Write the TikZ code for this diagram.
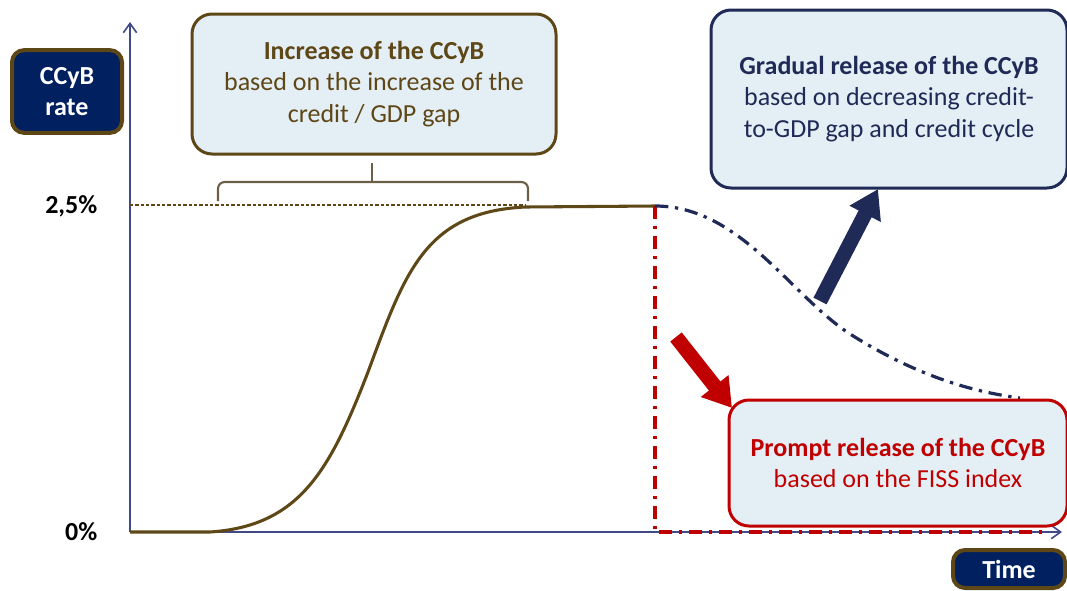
\documentclass[tikz,border=0pt]{standalone}
\usepackage{fontspec}
\setmainfont{Carlito}
\usetikzlibrary{arrows.meta,positioning}
\definecolor{navyfill}{HTML}{002060}
\definecolor{boxbrown}{HTML}{5E4716}
\definecolor{curvebrown}{HTML}{5E4818}
\definecolor{lightfill}{HTML}{E4EEF5}
\definecolor{axisblue}{HTML}{3F4A86}
\definecolor{deepnavy}{HTML}{1F2A56}
\definecolor{promptred}{HTML}{C00000}
\definecolor{bracegray}{HTML}{6B5F48}
\begin{document}
\begin{tikzpicture}[x=0.75pt,y=-0.75pt,
        every node/.style={font=\fontsize{19.5}{23.5}\selectfont},
        info box/.style={rounded corners=15pt,fill=lightfill,line width=2.25pt,align=center,inner sep=0pt},
        label box/.style={rounded corners=9pt,fill=navyfill,draw=boxbrown,line width=3pt,text=white,
          font=\fontsize{19.5}{23.5}\selectfont\bfseries,align=center,inner sep=0pt},
        tick label/.style={anchor=east,font=\fontsize{19.5}{23.5}\selectfont\bfseries},
        axis/.style={draw=axisblue,line width=1.2pt,-{Straight Barb[length=7pt,width=10pt]}},
        big arrow/.style={line width=11pt,-{Triangle[width=25pt,length=21pt]}},
        dash dot/.style={line width=2.4pt,dash pattern=on 10pt off 5pt on 2.5pt off 5pt}]

      \useasboundingbox (0,0) rectangle (1067,590);

      % axes
      \coordinate (origin) at (130,532);
      \coordinate (ytip) at (130,22);
      \coordinate (xtip) at (1062,532);
      \draw[axis] (origin) -- (ytip);
      \draw[axis] (origin) -- (xtip);

      \node[label box,minimum width=82.5pt,minimum height=62pt] (rate) at (67,91.5) {CCyB\\rate};
      \node[label box,minimum width=84pt,minimum height=28.5pt] (time) at (1009,569) {Time};
      \node[tick label] (top) at (102,206) {2,5\%};
      \node[tick label] (zero) at (102,532) {0\%};

      % level of 2,5%
      \coordinate (topleft) at (130,205);
      \coordinate (topright) at (525,205);
      \draw[boxbrown,line width=0.8pt,dash pattern=on 2.5pt off 1.5pt] (topleft) -- (topright);

      % brace
      \coordinate (braceleft) at (218,201);
      \coordinate (braceright) at (528,201);
      \coordinate (bracemid) at (372,182);
      \coordinate (bracetip) at (372,163);
      \draw[bracegray,line width=1.6pt,rounded corners=5pt]
        (braceleft) |- (bracemid) -| (braceright);
      \draw[bracegray,line width=1.6pt] (bracemid) -- (bracetip);

      % the buffer rate
      \coordinate (peak) at (655,206);
      \draw[curvebrown,line width=2.3pt] (origin) -- (210,532)
        .. controls (300,526) and (330,470) .. (368,372)
        .. controls (405,272) and (425,212) .. (525,207) -- (peak);

      % releases
      \coordinate (peakfoot) at (655,532);
      \coordinate (promptend) at (1045,532);
      \coordinate (gradualend) at (1020,398);
      \draw[promptred,dash dot] (peak) -- (peakfoot) -- (promptend);
      \draw[deepnavy,dash dot] (peak) .. controls (740,206) and (790,295) .. (850,334)
        .. controls (920,378) and (975,392) .. (gradualend);

      % boxes
      \node[info box,draw=boxbrown,text=boxbrown,minimum width=273pt,minimum height=105pt] (increase)
        at (374,84) {\textbf{Increase of the CCyB}\\based on the increase of the\\credit / GDP gap};
      \node[info box,draw=deepnavy,text=deepnavy,minimum width=267pt,minimum height=133.5pt] (gradual)
        at (889,99) {\textbf{Gradual release of the CCyB}\\based on decreasing credit-\\to-GDP gap and credit cycle};
      \node[info box,draw=promptred,text=promptred,minimum width=253.5pt,minimum height=94.5pt] (prompt)
        at (898,463) {\textbf{Prompt release of the CCyB}\\based on the FISS index};

      % big arrows
      \coordinate (upstart) at (820,301);
      \coordinate (upend) at (878,189);
      \coordinate (downstart) at (676,337);
      \coordinate (downend) at (732,408);
      \draw[big arrow,deepnavy] (upstart) -- (upend);
      \draw[big arrow,promptred] (downstart) -- (downend);
    \end{tikzpicture}
\end{document}
